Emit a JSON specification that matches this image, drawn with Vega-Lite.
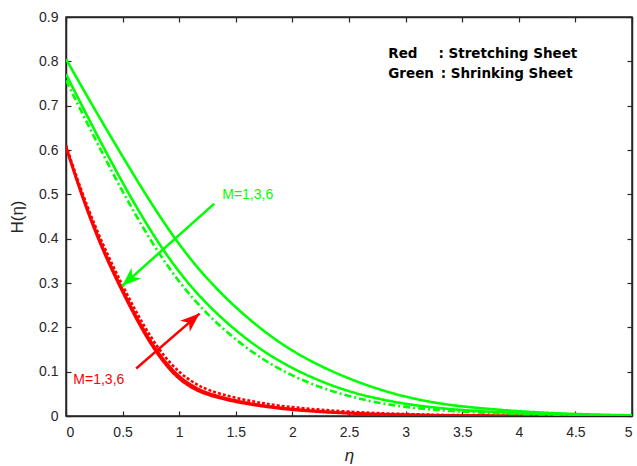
{
  "$schema": "https://vega.github.io/schema/vega-lite/v6.json",
  "width": 566,
  "height": 399,
  "autosize": "none",
  "padding": {"left": 66, "top": 17, "right": 5, "bottom": 50},
  "background": "white",
  "config": {
    "view": {"stroke": "#262626", "strokeWidth": 1.5},
    "font": "Arial, Liberation Sans, sans-serif",
    "axis": {
      "grid": false,
      "domainColor": "#262626",
      "domainWidth": 1.5,
      "tickColor": "#262626",
      "tickWidth": 1.2,
      "tickSize": -5,
      "labelFont": "Arial, Liberation Sans, sans-serif",
      "labelFontSize": 14,
      "labelColor": "#262626",
      "titleFont": "Arial, Liberation Sans, sans-serif",
      "titleFontSize": 17,
      "titleFontWeight": "normal",
      "titleColor": "#262626"
    }
  },
  "datasets": {
    "curves": [
      {"s":"R1","eta":0,"H":0.606},{"s":"R1","eta":0.125,"H":0.507},{"s":"R1","eta":0.25,"H":0.42},{"s":"R1","eta":0.375,"H":0.345},{"s":"R1","eta":0.5,"H":0.279},{"s":"R1","eta":0.625,"H":0.216},{"s":"R1","eta":0.75,"H":0.161},{"s":"R1","eta":0.875,"H":0.116},{"s":"R1","eta":1,"H":0.082},{"s":"R1","eta":1.125,"H":0.061},{"s":"R1","eta":1.25,"H":0.047},{"s":"R1","eta":1.5,"H":0.031},{"s":"R1","eta":1.75,"H":0.021},{"s":"R1","eta":2,"H":0.013},{"s":"R1","eta":2.5,"H":0.005},{"s":"R1","eta":3,"H":0.002},{"s":"R1","eta":3.5,"H":0.001},{"s":"R1","eta":4,"H":0.0003},{"s":"R1","eta":4.5,"H":0},{"s":"R1","eta":5,"H":0},
      {"s":"R3","eta":0,"H":0.608},{"s":"R3","eta":0.125,"H":0.51},{"s":"R3","eta":0.25,"H":0.425},{"s":"R3","eta":0.375,"H":0.35},{"s":"R3","eta":0.5,"H":0.284},{"s":"R3","eta":0.625,"H":0.222},{"s":"R3","eta":0.75,"H":0.167},{"s":"R3","eta":0.875,"H":0.122},{"s":"R3","eta":1,"H":0.088},{"s":"R3","eta":1.125,"H":0.066},{"s":"R3","eta":1.25,"H":0.051},{"s":"R3","eta":1.5,"H":0.034},{"s":"R3","eta":1.75,"H":0.023},{"s":"R3","eta":2,"H":0.015},{"s":"R3","eta":2.5,"H":0.006},{"s":"R3","eta":3,"H":0.0025},{"s":"R3","eta":3.5,"H":0.001},{"s":"R3","eta":4,"H":0.0004},{"s":"R3","eta":4.5,"H":0.0001},{"s":"R3","eta":5,"H":0},
      {"s":"R6","eta":0,"H":0.611},{"s":"R6","eta":0.125,"H":0.515},{"s":"R6","eta":0.25,"H":0.432},{"s":"R6","eta":0.375,"H":0.359},{"s":"R6","eta":0.5,"H":0.294},{"s":"R6","eta":0.625,"H":0.232},{"s":"R6","eta":0.75,"H":0.177},{"s":"R6","eta":0.875,"H":0.132},{"s":"R6","eta":1,"H":0.098},{"s":"R6","eta":1.125,"H":0.075},{"s":"R6","eta":1.25,"H":0.058},{"s":"R6","eta":1.5,"H":0.04},{"s":"R6","eta":1.75,"H":0.028},{"s":"R6","eta":2,"H":0.019},{"s":"R6","eta":2.5,"H":0.009},{"s":"R6","eta":3,"H":0.004},{"s":"R6","eta":3.5,"H":0.0015},{"s":"R6","eta":4,"H":0.0006},{"s":"R6","eta":4.5,"H":0.0002},{"s":"R6","eta":5,"H":0},
      {"s":"G1","eta":0,"H":0.805},{"s":"G1","eta":0.25,"H":0.693},{"s":"G1","eta":0.5,"H":0.585},{"s":"G1","eta":0.75,"H":0.48},{"s":"G1","eta":1,"H":0.385},{"s":"G1","eta":1.25,"H":0.307},{"s":"G1","eta":1.5,"H":0.244},{"s":"G1","eta":1.75,"H":0.19},{"s":"G1","eta":2,"H":0.146},{"s":"G1","eta":2.25,"H":0.112},{"s":"G1","eta":2.5,"H":0.084},{"s":"G1","eta":2.75,"H":0.061},{"s":"G1","eta":3,"H":0.043},{"s":"G1","eta":3.25,"H":0.03},{"s":"G1","eta":3.5,"H":0.021},{"s":"G1","eta":4,"H":0.01},{"s":"G1","eta":4.5,"H":0.004},{"s":"G1","eta":5,"H":0.0015},
      {"s":"G3","eta":0,"H":0.771},{"s":"G3","eta":0.25,"H":0.645},{"s":"G3","eta":0.5,"H":0.525},{"s":"G3","eta":0.75,"H":0.415},{"s":"G3","eta":1,"H":0.322},{"s":"G3","eta":1.25,"H":0.25},{"s":"G3","eta":1.5,"H":0.192},{"s":"G3","eta":1.75,"H":0.144},{"s":"G3","eta":2,"H":0.107},{"s":"G3","eta":2.25,"H":0.078},{"s":"G3","eta":2.5,"H":0.055},{"s":"G3","eta":2.75,"H":0.039},{"s":"G3","eta":3,"H":0.027},{"s":"G3","eta":3.25,"H":0.019},{"s":"G3","eta":3.5,"H":0.013},{"s":"G3","eta":4,"H":0.006},{"s":"G3","eta":4.5,"H":0.0025},{"s":"G3","eta":5,"H":0.001},
      {"s":"G6","eta":0,"H":0.757},{"s":"G6","eta":0.25,"H":0.628},{"s":"G6","eta":0.5,"H":0.505},{"s":"G6","eta":0.75,"H":0.393},{"s":"G6","eta":1,"H":0.3},{"s":"G6","eta":1.25,"H":0.228},{"s":"G6","eta":1.5,"H":0.171},{"s":"G6","eta":1.75,"H":0.125},{"s":"G6","eta":2,"H":0.09},{"s":"G6","eta":2.25,"H":0.064},{"s":"G6","eta":2.5,"H":0.044},{"s":"G6","eta":2.75,"H":0.03},{"s":"G6","eta":3,"H":0.02},{"s":"G6","eta":3.25,"H":0.014},{"s":"G6","eta":3.5,"H":0.0095},{"s":"G6","eta":4,"H":0.0045},{"s":"G6","eta":4.5,"H":0.002},{"s":"G6","eta":5,"H":0.001}
    ],
    "arrows": [
      {"which":"green","eta":1.31,"H":0.479,"eta2":0.495,"H2":0.293},
      {"which":"red","eta":0.62,"H":0.107,"eta2":1.18,"H2":0.231}
    ],
    "labels": [
      {"which":"green","eta":1.38,"H":0.498,"text":"M=1,3,6"},
      {"which":"red","eta":0.065,"H":0.081,"text":"M=1,3,6"}
    ],
    "legend": [
      {"eta":2.847,"H":0.816,"text":"Red"},
      {"eta":3.29,"H":0.816,"text":": Stretching Sheet"},
      {"eta":2.847,"H":0.772,"text":"Green"},
      {"eta":3.31,"H":0.772,"text":": Shrinking Sheet"}
    ]
  },
  "resolve": {"axis": {"x": "independent", "y": "independent"}},
  "layer": [
    {
      "data": {"name": "curves"},
      "mark": {"type": "line", "strokeWidth": 2.6, "interpolate": "basis", "clip": true},
      "encoding": {
        "x": {"field": "eta", "type": "quantitative", "scale": {"domain": [0, 5], "nice": false, "zero": false},
              "axis": {"orient": "bottom", "values": [0,0.5,1,1.5,2,2.5,3,3.5,4,4.5,5], "format": "~g", "labelPadding": 14, "title": "η", "titleFontStyle": "italic", "titlePadding": 8}},
        "y": {"field": "H", "type": "quantitative", "scale": {"domain": [0, 0.9], "nice": false},
              "axis": {"orient": "left", "values": [0,0.1,0.2,0.3,0.4,0.5,0.6,0.7,0.8,0.9], "format": "~g", "labelPadding": 13, "title": "H(η)", "titlePadding": 12}},
        "color": {"field": "s", "type": "nominal", "legend": null,
                  "scale": {"domain": ["R1","R3","R6","G1","G3","G6"], "range": ["#ff0000","#ff0000","#ff0000","#00ff00","#00ff00","#00ff00"]}},
        "strokeDash": {"field": "s", "type": "nominal", "legend": null,
                  "scale": {"domain": ["R1","R3","R6","G1","G3","G6"], "range": [[1,0],[1,0],[3,2],[1,0],[1,0],[7,3,2,3]]}}
      }
    },
    {
      "data": {"name": "arrows"},
      "transform": [{"filter": "datum.which === 'green'"}],
      "mark": {"type": "rule", "color": "#00ff00", "strokeWidth": 2.5},
      "encoding": {
        "x": {"field": "eta", "type": "quantitative", "axis": null},
        "y": {"field": "H", "type": "quantitative", "axis": null},
        "x2": {"field": "eta2"},
        "y2": {"field": "H2"}
      }
    },
    {
      "data": {"name": "arrows"},
      "transform": [{"filter": "datum.which === 'red'"}],
      "mark": {"type": "rule", "color": "#ff0000", "strokeWidth": 2.5},
      "encoding": {
        "x": {"field": "eta", "type": "quantitative", "axis": null},
        "y": {"field": "H", "type": "quantitative", "axis": null},
        "x2": {"field": "eta2"},
        "y2": {"field": "H2"}
      }
    },
    {
      "data": {"name": "arrows"},
      "transform": [{"filter": "datum.which === 'green'"}],
      "mark": {"type": "point", "shape": "M0,0 L-0.38,1 L0,0.72 L0.38,1 Z", "filled": true, "color": "#00ff00", "opacity": 1, "size": 1500, "angle": 228, "strokeWidth": 0},
      "encoding": {
        "x": {"field": "eta2", "type": "quantitative", "axis": null},
        "y": {"field": "H2", "type": "quantitative", "axis": null}
      }
    },
    {
      "data": {"name": "arrows"},
      "transform": [{"filter": "datum.which === 'red'"}],
      "mark": {"type": "point", "shape": "M0,0 L-0.38,1 L0,0.72 L0.38,1 Z", "filled": true, "color": "#ff0000", "opacity": 1, "size": 1500, "angle": 49, "strokeWidth": 0},
      "encoding": {
        "x": {"field": "eta2", "type": "quantitative", "axis": null},
        "y": {"field": "H2", "type": "quantitative", "axis": null}
      }
    },
    {
      "data": {"name": "labels"},
      "transform": [{"filter": "datum.which === 'green'"}],
      "mark": {"type": "text", "align": "left", "baseline": "middle", "fontSize": 14, "color": "#00ff00", "font": "Arial, Liberation Sans, sans-serif"},
      "encoding": {
        "x": {"field": "eta", "type": "quantitative", "axis": null},
        "y": {"field": "H", "type": "quantitative", "axis": null},
        "text": {"field": "text"}
      }
    },
    {
      "data": {"name": "labels"},
      "transform": [{"filter": "datum.which === 'red'"}],
      "mark": {"type": "text", "align": "left", "baseline": "middle", "fontSize": 14, "color": "#ff0000", "font": "Arial, Liberation Sans, sans-serif"},
      "encoding": {
        "x": {"field": "eta", "type": "quantitative", "axis": null},
        "y": {"field": "H", "type": "quantitative", "axis": null},
        "text": {"field": "text"}
      }
    },
    {
      "data": {"name": "legend"},
      "mark": {"type": "text", "align": "left", "baseline": "middle", "fontSize": 13.5, "fontWeight": "bold", "color": "#000000", "font": "DejaVu Sans"},
      "encoding": {
        "x": {"field": "eta", "type": "quantitative",
              "axis": {"orient": "top", "values": [0,0.5,1,1.5,2,2.5,3,3.5,4,4.5,5], "labels": false, "title": null}},
        "y": {"field": "H", "type": "quantitative",
              "axis": {"orient": "right", "values": [0,0.1,0.2,0.3,0.4,0.5,0.6,0.7,0.8,0.9], "labels": false, "title": null}},
        "text": {"field": "text"}
      }
    }
  ]
}
